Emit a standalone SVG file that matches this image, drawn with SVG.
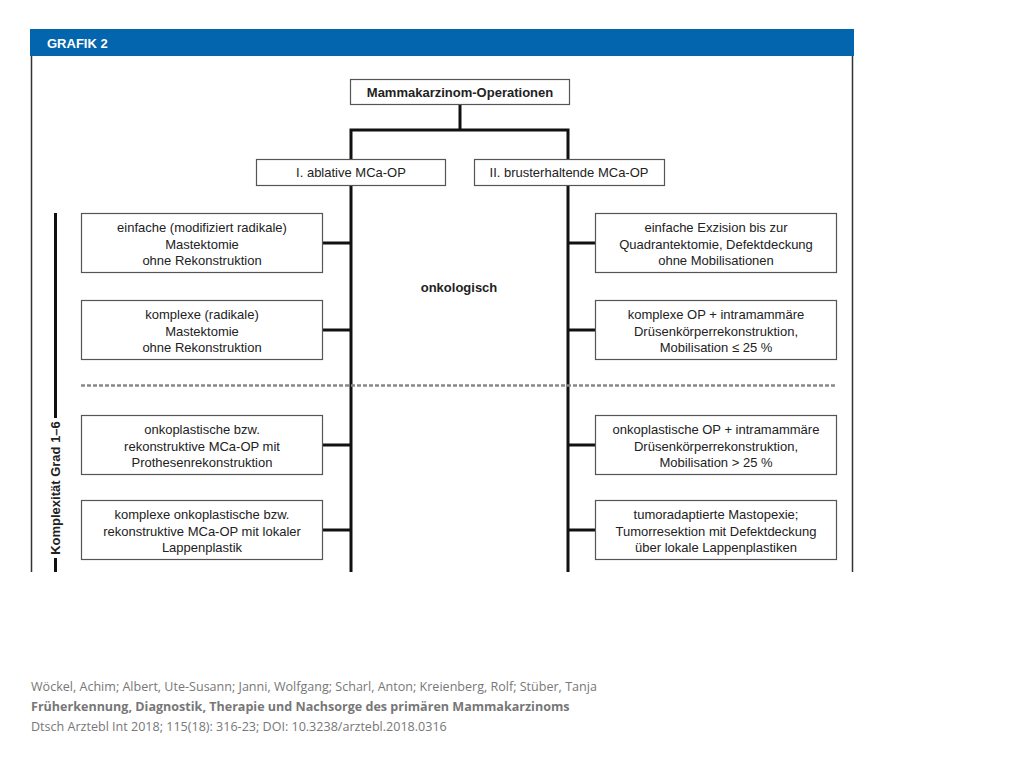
<svg xmlns="http://www.w3.org/2000/svg" width="1024" height="768" viewBox="0 0 1024 768">
<style>
.box{fill:#fff;stroke:#555;stroke-width:1.2}
.t{font-family:"Liberation Sans",Arial,sans-serif;font-size:13px;fill:#222;text-anchor:middle}
.b{font-weight:bold}
.ln{stroke:#111;stroke-width:3;fill:none}
.ft{font-family:"Open Sans","Liberation Sans",sans-serif;font-size:12.55px;fill:#777}
</style>
<rect width="1024" height="768" fill="#fff"/>
<g id="frame">
<rect x="30" y="29" width="824" height="27" fill="#0365ae"/>
<text x="47" y="48" font-family="Liberation Sans,Arial,sans-serif" font-size="13" font-weight="bold" fill="#fff">GRAFIK 2</text>
<line x1="31.5" y1="56" x2="31.5" y2="572" stroke="#333" stroke-width="1.5"/>
<line x1="852.5" y1="56" x2="852.5" y2="572" stroke="#333" stroke-width="1.5"/>
</g>
<g id="connectors">
<polyline class="ln" points="460,104 460,130"/>
<polyline class="ln" points="351,572 351,130 568,130 568,572"/>
<line class="ln" x1="322" y1="243" x2="351" y2="243"/>
<line class="ln" x1="322" y1="330" x2="351" y2="330"/>
<line class="ln" x1="322" y1="445" x2="351" y2="445"/>
<line class="ln" x1="322" y1="530" x2="351" y2="530"/>
<line class="ln" x1="568" y1="243" x2="595" y2="243"/>
<line class="ln" x1="568" y1="330" x2="595" y2="330"/>
<line class="ln" x1="568" y1="445" x2="595" y2="445"/>
<line class="ln" x1="568" y1="530" x2="595" y2="530"/>
<line x1="81" y1="385.5" x2="836" y2="385.5" stroke="#888" stroke-width="2.5" stroke-dasharray="4,2"/>
</g>
<g id="root"><rect class="box" x="350.5" y="79.5" width="219" height="25"/><text class="t b" x="460" y="97">Mammakarzinom-Operationen</text></g>
<g id="ablative"><rect class="box" x="256.5" y="159.5" width="189" height="26"/><text class="t" x="351" y="177">I. ablative MCa-OP</text></g>
<g id="brusterhaltende"><rect class="box" x="474.5" y="159.5" width="190" height="26"/><text class="t" x="569" y="177">II. brusterhaltende MCa-OP</text></g>
<g id="onkologisch"><text class="t b" x="459" y="292">onkologisch</text></g>
<g id="l1"><rect class="box" x="81.5" y="213.5" width="241" height="59"/><text class="t" x="202" y="232">einfache (modifiziert radikale)<tspan x="202" dy="16.5">Mastektomie</tspan><tspan x="202" dy="16.5">ohne Rekonstruktion</tspan></text></g>
<g id="l2"><rect class="box" x="81.5" y="300.5" width="241" height="59"/><text class="t" x="202" y="319">komplexe (radikale)<tspan x="202" dy="16.5">Mastektomie</tspan><tspan x="202" dy="16.5">ohne Rekonstruktion</tspan></text></g>
<g id="l3"><rect class="box" x="81.5" y="415.5" width="241" height="59"/><text class="t" x="202" y="434">onkoplastische bzw.<tspan x="202" dy="16.5">rekonstruktive MCa-OP mit</tspan><tspan x="202" dy="16.5">Prothesenrekonstruktion</tspan></text></g>
<g id="l4"><rect class="box" x="81.5" y="500.5" width="241" height="59"/><text class="t" x="202" y="519">komplexe onkoplastische bzw.<tspan x="202" dy="16.5">rekonstruktive MCa-OP mit lokaler</tspan><tspan x="202" dy="16.5">Lappenplastik</tspan></text></g>
<g id="r1"><rect class="box" x="595.5" y="213.5" width="241" height="59"/><text class="t" x="716" y="232">einfache Exzision bis zur<tspan x="716" dy="16.5">Quadrantektomie, Defektdeckung</tspan><tspan x="716" dy="16.5">ohne Mobilisationen</tspan></text></g>
<g id="r2"><rect class="box" x="595.5" y="300.5" width="241" height="59"/><text class="t" x="716" y="319">komplexe OP + intramammäre<tspan x="716" dy="16.5">Drüsenkörperrekonstruktion,</tspan><tspan x="716" dy="16.5">Mobilisation ≤ 25 %</tspan></text></g>
<g id="r3"><rect class="box" x="595.5" y="415.5" width="241" height="59"/><text class="t" x="716" y="434">onkoplastische OP + intramammäre<tspan x="716" dy="16.5">Drüsenkörperrekonstruktion,</tspan><tspan x="716" dy="16.5">Mobilisation &gt; 25 %</tspan></text></g>
<g id="r4"><rect class="box" x="595.5" y="500.5" width="241" height="59"/><text class="t" x="716" y="519">tumoradaptierte Mastopexie;<tspan x="716" dy="16.5">Tumorresektion mit Defektdeckung</tspan><tspan x="716" dy="16.5">über lokale Lappenplastiken</tspan></text></g>
<g id="komplexitaet">
<line x1="55.5" y1="213" x2="55.5" y2="572" stroke="#111" stroke-width="3"/>
<rect x="47" y="418" width="17" height="140" fill="#fff"/>
<text class="t b" transform="translate(60,488) rotate(-90)" x="0" y="0" font-size="14">Komplexität Grad 1–6</text>
</g>
<g id="footer">
<text class="ft" x="31" y="691">Wöckel, Achim; Albert, Ute-Susann; Janni, Wolfgang; Scharl, Anton; Kreienberg, Rolf; Stüber, Tanja</text>
<text class="ft" x="31" y="711" font-weight="bold">Früherkennung, Diagnostik, Therapie und Nachsorge des primären Mammakarzinoms</text>
<text class="ft" x="31" y="731">Dtsch Arztebl Int 2018; 115(18): 316-23; DOI: 10.3238/arztebl.2018.0316</text>
</g>
</svg>
